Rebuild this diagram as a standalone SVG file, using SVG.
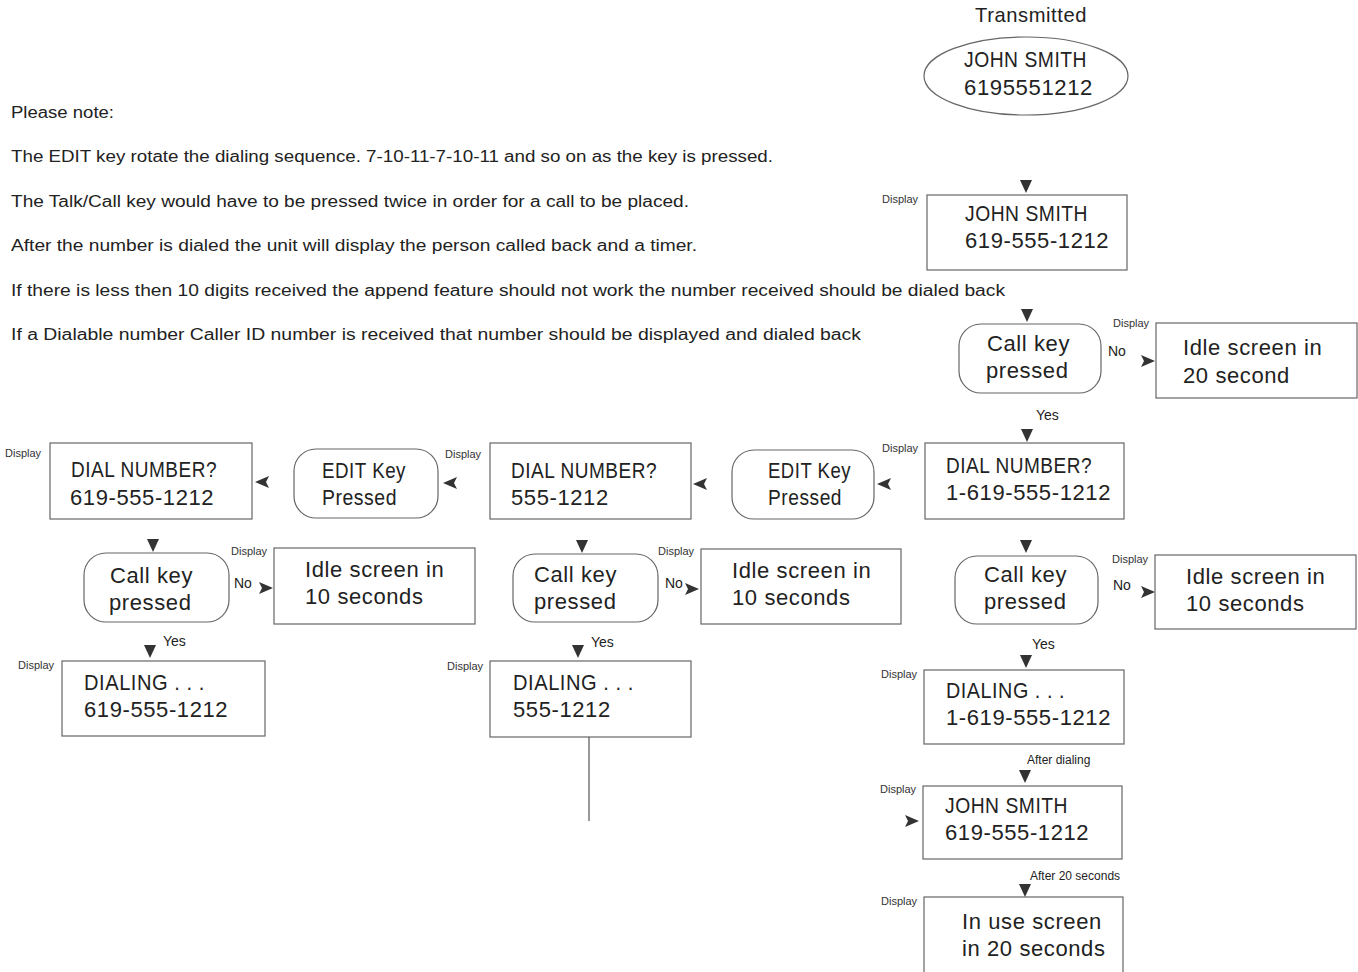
<svg xmlns="http://www.w3.org/2000/svg" width="1358" height="972" viewBox="0 0 1358 972">
<style>
.bg{fill:#fff}
.box{fill:#fff;stroke:#666;stroke-width:1.2}
.t{font-family:"Liberation Sans",Arial,sans-serif;font-size:22px;fill:#222;letter-spacing:0.6px}
.n{font-family:"Liberation Sans",Arial,sans-serif;font-size:16px;fill:#222}
.s{font-family:"Liberation Sans",Arial,sans-serif;font-size:11px;fill:#333}
.l{font-family:"Liberation Sans",Arial,sans-serif;font-size:14px;fill:#222}
.m{font-family:"Liberation Sans",Arial,sans-serif;font-size:12px;fill:#222}
.ah{fill:#333}
.ln{stroke:#555;stroke-width:1.2;fill:none}
</style>
<defs>
<path id="ad" d="M-6,-7 L6,-7 L0,6 Z"/>
<path id="al" d="M7,-6 L-7,0 L7,6 L4,0 Z"/>
<path id="ar" d="M-7,-6 L7,0 L-7,6 L-4,0 Z"/>
</defs>
<rect class="bg" x="0" y="0" width="1358" height="972"/>

<g id="notes">
<text class="n" x="11" y="118" textLength="103" lengthAdjust="spacingAndGlyphs">Please note:</text>
<text class="n" x="11" y="162" textLength="762" lengthAdjust="spacingAndGlyphs">The EDIT key rotate the dialing sequence.  7-10-11-7-10-11 and so on as the key is pressed.</text>
<text class="n" x="11" y="207" textLength="678" lengthAdjust="spacingAndGlyphs">The Talk/Call key would have to be pressed twice in order for a call to be placed.</text>
<text class="n" x="11" y="251" textLength="686" lengthAdjust="spacingAndGlyphs">After the number is dialed the unit will display the person called back and a timer.</text>
<text class="n" x="11" y="296" textLength="994" lengthAdjust="spacingAndGlyphs">If there is less then 10 digits received the append feature should not work the number received should be dialed back</text>
<text class="n" x="11" y="340" textLength="850" lengthAdjust="spacingAndGlyphs">If a Dialable number Caller ID number is received that number should be displayed and dialed back</text>
</g>

<g id="transmitted">
<text class="t" x="975" y="22" textLength="112" lengthAdjust="spacingAndGlyphs" style="font-size:21px">Transmitted</text>
<ellipse class="box" cx="1026" cy="76" rx="102" ry="39"/>
<text class="t" x="964" y="67" textLength="123" lengthAdjust="spacingAndGlyphs">JOHN SMITH</text>
<text class="t" x="964" y="95" textLength="129" lengthAdjust="spacingAndGlyphs">6195551212</text>
</g>

<g id="display-john1">
<text class="s" x="882" y="203">Display</text>
<rect class="box" x="927" y="195" width="200" height="75"/>
<text class="t" x="965" y="221" textLength="123" lengthAdjust="spacingAndGlyphs">JOHN SMITH</text>
<text class="t" x="965" y="248">619-555-1212</text>
</g>

<g id="callkey1">
<rect class="box" x="959" y="324" width="142" height="69" rx="22"/>
<text class="t" x="987" y="351">Call key</text>
<text class="t" x="986" y="378">pressed</text>
</g>

<g id="idle20">
<text class="s" x="1113" y="327">Display</text>
<rect class="box" x="1156" y="323" width="201" height="75"/>
<text class="t" x="1183" y="355">Idle screen in</text>
<text class="t" x="1183" y="383">20 second</text>
</g>

<g id="dial11">
<text class="s" x="882" y="452">Display</text>
<rect class="box" x="925" y="443" width="199" height="76"/>
<text class="t" x="946" y="473" textLength="146" lengthAdjust="spacingAndGlyphs">DIAL NUMBER?</text>
<text class="t" x="946" y="500">1-619-555-1212</text>
</g>

<g id="edit1">
<rect class="box" x="732" y="450" width="142" height="69" rx="22"/>
<text class="t" x="768" y="478" textLength="83" lengthAdjust="spacingAndGlyphs">EDIT Key</text>
<text class="t" x="768" y="505" textLength="74" lengthAdjust="spacingAndGlyphs">Pressed</text>
</g>

<g id="dial7">
<text class="s" x="445" y="458">Display</text>
<rect class="box" x="490" y="443" width="201" height="76"/>
<text class="t" x="511" y="478" textLength="146" lengthAdjust="spacingAndGlyphs">DIAL NUMBER?</text>
<text class="t" x="511" y="505">555-1212</text>
</g>

<g id="edit2">
<rect class="box" x="294" y="449" width="144" height="69" rx="22"/>
<text class="t" x="322" y="478" textLength="84" lengthAdjust="spacingAndGlyphs">EDIT Key</text>
<text class="t" x="322" y="505" textLength="75" lengthAdjust="spacingAndGlyphs">Pressed</text>
</g>

<g id="dial10">
<text class="s" x="5" y="457">Display</text>
<rect class="box" x="50" y="443" width="202" height="76"/>
<text class="t" x="71" y="477" textLength="146" lengthAdjust="spacingAndGlyphs">DIAL NUMBER?</text>
<text class="t" x="70" y="505">619-555-1212</text>
</g>

<g id="callkey-left">
<rect class="box" x="84" y="553" width="145" height="69" rx="22"/>
<text class="t" x="110" y="583">Call key</text>
<text class="t" x="109" y="610">pressed</text>
</g>

<g id="idle-left">
<text class="s" x="231" y="555">Display</text>
<rect class="box" x="274" y="548" width="201" height="76"/>
<text class="t" x="305" y="577">Idle screen in</text>
<text class="t" x="305" y="604">10 seconds</text>
</g>

<g id="dialing-left">
<text class="s" x="18" y="669">Display</text>
<rect class="box" x="62" y="661" width="203" height="75"/>
<text class="t" x="84" y="690" textLength="121" lengthAdjust="spacingAndGlyphs">DIALING . . .</text>
<text class="t" x="84" y="717">619-555-1212</text>
</g>

<g id="callkey-mid">
<rect class="box" x="513" y="554" width="145" height="68" rx="22"/>
<text class="t" x="534" y="582">Call key</text>
<text class="t" x="534" y="609">pressed</text>
</g>

<g id="idle-mid">
<text class="s" x="658" y="555">Display</text>
<rect class="box" x="701" y="549" width="200" height="75"/>
<text class="t" x="732" y="578">Idle screen in</text>
<text class="t" x="732" y="605">10 seconds</text>
</g>

<g id="dialing-mid">
<text class="s" x="447" y="670">Display</text>
<rect class="box" x="490" y="661" width="201" height="76"/>
<text class="t" x="513" y="690" textLength="121" lengthAdjust="spacingAndGlyphs">DIALING . . .</text>
<text class="t" x="513" y="717">555-1212</text>
</g>

<g id="callkey-right">
<rect class="box" x="955" y="556" width="143" height="68" rx="22"/>
<text class="t" x="984" y="582">Call key</text>
<text class="t" x="984" y="609">pressed</text>
</g>

<g id="idle-right">
<text class="s" x="1112" y="563">Display</text>
<rect class="box" x="1155" y="555" width="201" height="74"/>
<text class="t" x="1186" y="584">Idle screen in</text>
<text class="t" x="1186" y="611">10 seconds</text>
</g>

<g id="dialing-right">
<text class="s" x="881" y="678">Display</text>
<rect class="box" x="924" y="670" width="200" height="74"/>
<text class="t" x="946" y="698" textLength="119" lengthAdjust="spacingAndGlyphs">DIALING . . .</text>
<text class="t" x="946" y="725">1-619-555-1212</text>
</g>

<g id="john2">
<text class="s" x="880" y="793">Display</text>
<rect class="box" x="923" y="786" width="199" height="73"/>
<text class="t" x="945" y="813" textLength="123" lengthAdjust="spacingAndGlyphs">JOHN SMITH</text>
<text class="t" x="945" y="840">619-555-1212</text>
</g>

<g id="inuse">
<text class="s" x="881" y="905">Display</text>
<rect class="box" x="924" y="897" width="199" height="80"/>
<text class="t" x="962" y="929">In use screen</text>
<text class="t" x="962" y="956">in 20 seconds</text>
</g>

<g id="connectors">
<line class="ln" x1="589" y1="737" x2="589" y2="821"/>
<use href="#ad" class="ah" x="1026" y="187"/>
<use href="#ad" class="ah" x="1027" y="316"/>
<use href="#ar" class="ah" x="1148" y="361"/>
<use href="#ad" class="ah" x="1027" y="436"/>
<use href="#al" class="ah" x="884" y="484"/>
<use href="#al" class="ah" x="700" y="484"/>
<use href="#al" class="ah" x="450" y="483"/>
<use href="#al" class="ah" x="262" y="482"/>
<use href="#ad" class="ah" x="153" y="546"/>
<use href="#ad" class="ah" x="582" y="547"/>
<use href="#ad" class="ah" x="1026" y="547"/>
<use href="#ar" class="ah" x="266" y="588"/>
<use href="#ar" class="ah" x="692" y="589"/>
<use href="#ar" class="ah" x="1148" y="592"/>
<use href="#ad" class="ah" x="150" y="652"/>
<use href="#ad" class="ah" x="578" y="652"/>
<use href="#ad" class="ah" x="1026" y="662"/>
<use href="#ad" class="ah" x="1025" y="777"/>
<use href="#ar" class="ah" x="912" y="821"/>
<use href="#ad" class="ah" x="1025" y="891"/>
<text class="l" x="1108" y="356">No</text>
<text class="l" x="1036" y="420">Yes</text>
<text class="l" x="234" y="588">No</text>
<text class="l" x="163" y="646">Yes</text>
<text class="l" x="665" y="588">No</text>
<text class="l" x="591" y="647">Yes</text>
<text class="l" x="1113" y="590">No</text>
<text class="l" x="1032" y="649">Yes</text>
<text class="m" x="1027" y="764">After dialing</text>
<text class="m" x="1030" y="880">After 20 seconds</text>
</g>
</svg>
